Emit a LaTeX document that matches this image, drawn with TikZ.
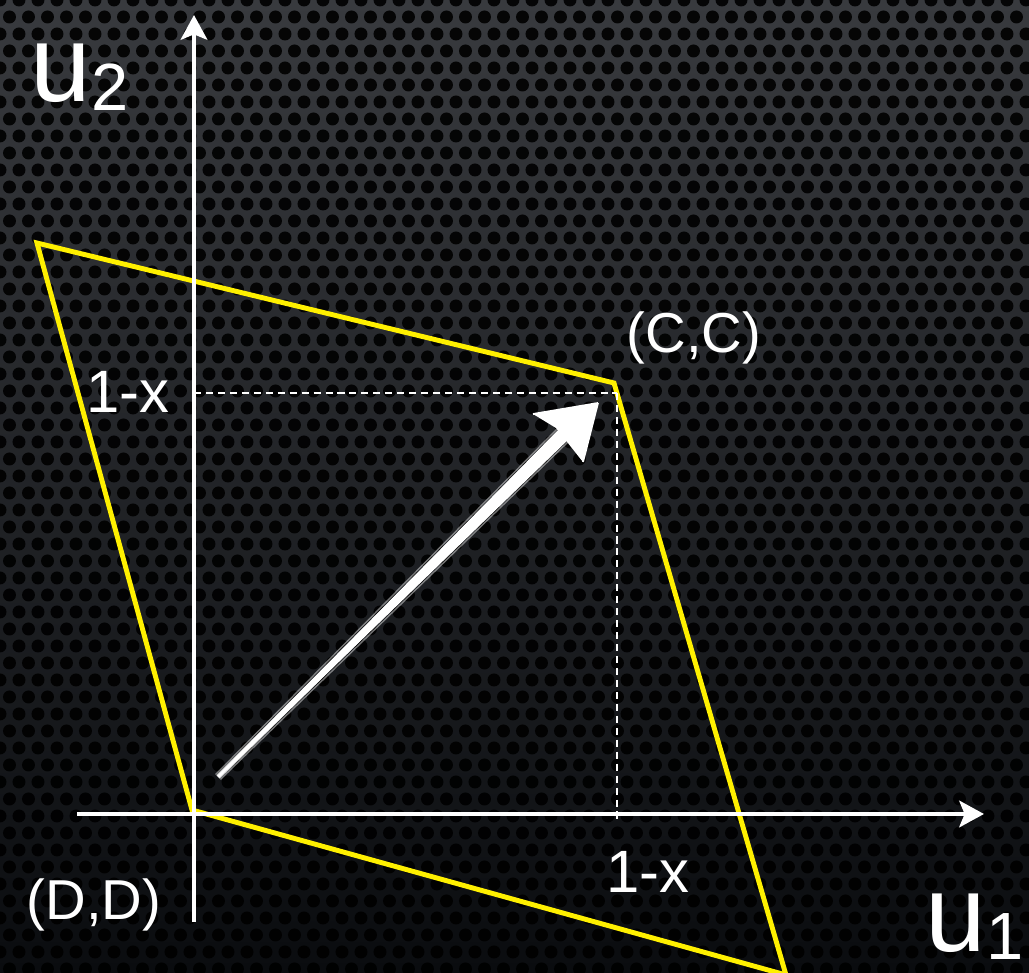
\documentclass[tikz,border=0pt]{standalone}
\usepackage{fontspec}
\setmainfont{Liberation Sans}
\usetikzlibrary{arrows.meta, calc}
\definecolor{board_grey}{RGB}{56, 58, 62}
\definecolor{board_black}{RGB}{10, 12, 15}
\definecolor{line_yellow}{RGB}{255, 240, 0}

\begin{document}
\begin{tikzpicture}[x=0.01cm, y=-0.01cm, >=Stealth,
    axis/.style={draw=white, line width=1.4pt, -{Stealth[length=7pt, width=7.5pt, inset=1.5pt]}},
    region/.style={draw=line_yellow, line width=1.4pt, line join=miter},
    guide/.style={draw=white, line width=0.7pt, dash pattern=on 2pt off 1.4pt},
    lbl/.style={text=white, inner sep=0pt, anchor=base west, font=\fontsize{16}{18}\selectfont},
    tick/.style={lbl, font=\fontsize{17}{18}\selectfont},
    axlbl/.style={text=white, inner sep=0pt, anchor=base west, font=\fontsize{31}{31}\selectfont}]
  \useasboundingbox (0,0) rectangle (1029,973);
  \begin{scope}
    \clip (0,0) rectangle (1029,973);
    \shade[top color=board_grey, bottom color=board_black] (0,0) rectangle (1029,973);
    \foreach \r in {0,...,58} {
      \pgfmathsetmacro{\off}{mod(\r,2)*9.5}
      \foreach \c in {0,...,55}
        \fill[black, opacity=0.9] ({\c*19+\off},{\r*17}) circle[radius=6.5];
    }

    \coordinate (o) at (194,814);
    \coordinate (pa) at (37,243);
    \coordinate (pb) at (614,383);
    \coordinate (pc) at (786,975);
    \coordinate (po) at (192,810);
    \coordinate (cc) at (617,393);

    \draw[region] (pa) -- (pb) -- (pc) -- (po) -- cycle;

    \draw[guide] (o |- cc) -- (cc);
    \draw[guide] (cc) -- (617,820);

    \draw[axis] (77,814) -- (984,814);
    \draw[axis] (194,922) -- (194,15);

    \coordinate (s) at (218,777);
    \coordinate (e) at (566,432);
    \coordinate (tip) at (598,403);
    \fill[white] ($(s)+(1,1)$) -- ($(e)+(5,5)$) -- ($(e)+(-5,-5)$) -- ($(s)+(-1,-1)$) -- cycle;
    \foreach \d/\o in {-6/0.45, -3/0.8, 3/0.8, 6/0.45}
      \draw[white, opacity=\o, line width=0.4pt] ($(s)+(\d*0.4,\d*0.4)$) -- ($(e)+(\d,\d)$);
    \fill[white] (tip) -- (533,414) -- (556,428) -- (583,462) -- cycle;
    \draw[white, line width=0.5pt] (tip) -- (533,414) (tip) -- (583,462);
  \end{scope}

  \node[axlbl] (u2) at (30,102) {u\raisebox{-0.08cm}{\fontsize{19}{19}\selectfont 2}};
  \node[axlbl] (u1) at (925,952) {u\raisebox{-0.08cm}{\fontsize{19}{19}\selectfont 1}};
  \node[lbl] (ccl) at (626,353) {(C,C)};
  \node[lbl] (ddl) at (26,920) {(D,D)};
  \node[tick] (ty) at (86,413) {1-x};
  \node[tick] (tx) at (606,893) {1-x};
\end{tikzpicture}
\end{document}
